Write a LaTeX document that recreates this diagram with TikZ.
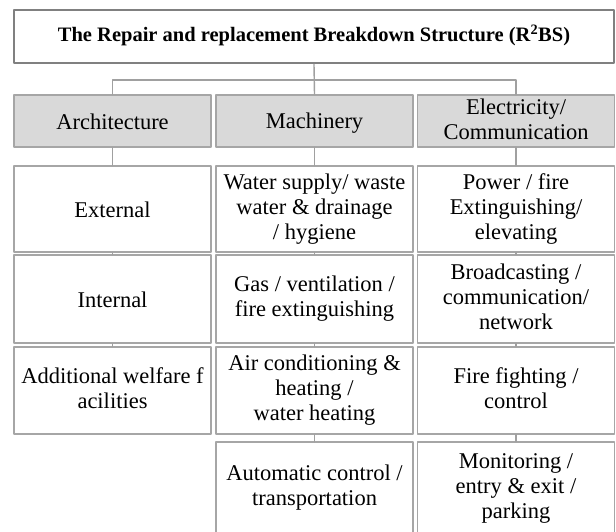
\documentclass[tikz,border=0pt]{standalone}
\usepackage{fontspec}
\setmainfont{Liberation Serif}
\definecolor{boxgray}{RGB}{166,166,166}
\definecolor{linkgray}{RGB}{160,160,160}
\definecolor{titlegray}{RGB}{128,128,128}
\definecolor{headfill}{RGB}{217,217,217}
\newcommand{\topstrut}{\rule{0pt}{20.5pt}}
\newcommand{\botstrut}{\rule[-4.5pt]{0pt}{4.5pt}}

\begin{document}
\begin{tikzpicture}[x=1pt, y=-1pt, line cap=round, line join=round,
    box/.style={draw=boxgray, line width=1.2pt, align=center, minimum width=197pt, inner sep=0pt,
      font=\fontsize{22.5}{25}\selectfont, execute at begin node=\topstrut, execute at end node=\botstrut},
    head/.style={box, fill=headfill, minimum height=52pt},
    link/.style={linkgray, line width=1.4pt}]
  \useasboundingbox (0,0) rectangle (616,531);
  \clip (0,0) rectangle (616,531);

  % top of the structure
  \node [draw=titlegray, line width=2.6pt, minimum width=600pt, minimum height=53pt, inner sep=0pt,
         font=\bfseries\fontsize{20.5}{22}\selectfont] (title) at (314,36.5)
        {\strut The Repair and replacement Breakdown Structure (R\textsuperscript{2}BS)};

  % headers
  \node [head] (hA) at (112.5,121) {Architecture};
  \node [head] (hB) at (314.5,121) {Machinery};
  \node [head] (hC) at (516,121) {Electricity/\\Communication};

  % first column
  \node [box, minimum height=86pt] (a1) at (112.5,209) {External};
  \node [box, minimum height=88pt] (a2) at (112.5,299) {Internal};
  \node [box, minimum height=87pt] (a3) at (112.5,390.5) {Additional welfare f\\acilities};

  % second column
  \node [box, minimum height=86pt] (b1) at (314.5,209) {Water supply/ waste\\water \& drainage\\/ hygiene};
  \node [box, minimum height=88pt] (b2) at (314.5,299) {Gas / ventilation /\\fire extinguishing};
  \node [box, minimum height=87pt] (b3) at (314.5,390.5) {Air conditioning \&\\heating /\\water heating};
  \node [box, minimum height=92pt] (b4) at (314.5,488) {Automatic control /\\transportation};

  % third column
  \node [box, minimum height=86pt] (c1) at (516,209) {Power / fire\\Extinguishing/\\elevating};
  \node [box, minimum height=88pt] (c2) at (516,299) {Broadcasting /\\communication/\\network};
  \node [box, minimum height=87pt] (c3) at (516,390.5) {Fire fighting /\\control};
  \node [box, minimum height=92pt] (c4) at (516,488) {Monitoring /\\entry \& exit /\\parking};

  \coordinate (split) at (314.5,80);
  \draw [link] (title.south) -- (hB.north);
  \draw [link] (hA.north) -- (hA.north |- split) -- (hC.north |- split) -- (hC.north);

  \draw [link] (hA.south) -- (a1.north);
  \draw [link] (a1.south) -- (a2.north);
  \draw [link] (a2.south) -- (a3.north);
  \draw [link] (hB.south) -- (b1.north);
  \draw [link] (b1.south) -- (b2.north);
  \draw [link] (b2.south) -- (b3.north);
  \draw [link] (b3.south) -- (b4.north);
  \draw [link] (hC.south) -- (c1.north);
  \draw [link] (c1.south) -- (c2.north);
  \draw [link] (c2.south) -- (c3.north);
  \draw [link] (c3.south) -- (c4.north);
\end{tikzpicture}
\end{document}
